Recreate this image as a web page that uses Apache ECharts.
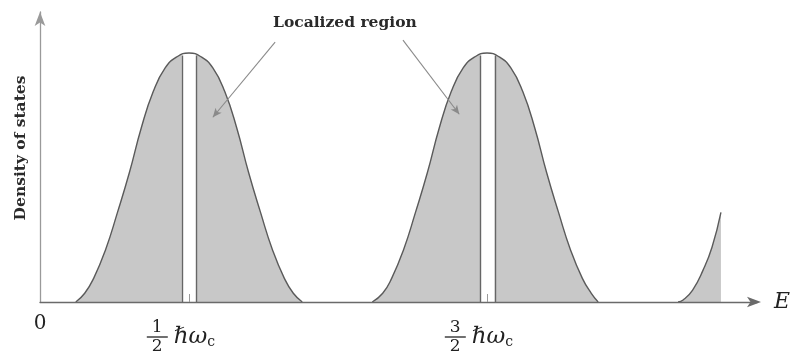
<!DOCTYPE html>
<html>
<head>
<meta charset="utf-8">
<script src="https://cdn.jsdelivr.net/npm/echarts@6/dist/echarts.min.js"></script>
<style>
  html, body { margin: 0; padding: 0; background: #fff; }
  #chart { width: 792px; height: 358px; }
</style>
</head>
<body>
<div id="chart"></div>
<script>
// Broadened Landau levels: energy in units of ħω_c, density of states normalised to the level peak.
const level1 = [[0.12, 0], [0.15, 0.035], [0.18, 0.095], [0.22, 0.21], [0.26, 0.36], [0.30, 0.52],
  [0.34, 0.70], [0.38, 0.845], [0.42, 0.94], [0.46, 0.985], [0.50, 1.0], [0.54, 0.985], [0.58, 0.94],
  [0.62, 0.845], [0.66, 0.70], [0.70, 0.52], [0.74, 0.36], [0.78, 0.21], [0.82, 0.095], [0.85, 0.035], [0.88, 0]];
const level2 = [[1.115, 0], [1.15, 0.035], [1.18, 0.095], [1.22, 0.21], [1.26, 0.36], [1.30, 0.52],
  [1.34, 0.70], [1.38, 0.845], [1.42, 0.94], [1.46, 0.985], [1.50, 1.0], [1.54, 0.985], [1.58, 0.94],
  [1.62, 0.845], [1.66, 0.70], [1.70, 0.52], [1.74, 0.36], [1.78, 0.21], [1.82, 0.095], [1.85, 0.035], [1.873, 0]];
const level3 = [[2.141, 0], [2.158, 0.008], [2.19, 0.048], [2.225, 0.128], [2.255, 0.22], [2.285, 0.36]];

// Extended states at the centre of each level
const strip1 = [[0.476, 0.993], [0.5, 1.0], [0.524, 0.993]];
const strip2 = [[1.478, 0.993], [1.5, 1.0], [1.526, 0.993]];
const stripEdges = [[0.476, 0.99], [0.524, 0.99], [1.478, 0.99], [1.526, 0.99]];

// Tick positions and labels on the energy axis
const tickValues = [0, 0.5, 1.5];
const tickNumerators = { 0.5: '1', 1.5: '3' };
const levelCentres = [0.5, 1.5];

// Pointers from the "Localized region" caption into the tails of the levels
const pointers = [
  [[0.789, 1.044], [0.58, 0.742]],
  [[1.218, 1.052], [1.407, 0.754]]
];

const serif = '"DejaVu Serif", "Liberation Serif", serif';
const fillGray = '#c8c8c8';
const edgeGray = '#5a5a5a';
const smoothing = 0.5;

function fillSeries(data) {
  return {
    type: 'line', data: data, smooth: smoothing, showSymbol: false, silent: true,
    lineStyle: { width: 0 }, areaStyle: { color: fillGray, opacity: 1 }, z: 1
  };
}
function stripSeries(data) {
  return {
    type: 'line', data: data, smooth: smoothing, showSymbol: false, silent: true,
    lineStyle: { width: 0 }, areaStyle: { color: '#ffffff', opacity: 1 }, z: 2
  };
}
function outlineSeries(data) {
  return {
    type: 'line', data: data, smooth: smoothing, showSymbol: false, silent: true,
    lineStyle: { width: 1.4, color: edgeGray }, z: 3
  };
}

const chart = echarts.init(document.getElementById('chart'), null, { renderer: 'canvas' });

chart.setOption({
  animation: false,
  backgroundColor: '#ffffff',
  title: {
    text: 'Localized region',
    left: 273, top: 15, padding: 0,
    textStyle: { fontFamily: serif, fontWeight: 'bold', fontSize: 15.5, color: '#2a2a2a' }
  },
  grid: { left: 40, right: 35, top: 12, bottom: 56, containLabel: false, outerBoundsMode: 'none' },
  xAxis: {
    type: 'value', min: 0, max: 2.406, z: 10,
    name: 'E', nameLocation: 'end', nameGap: 17,
    nameTextStyle: { fontFamily: serif, fontStyle: 'italic', fontSize: 22, color: '#222' },
    splitLine: { show: false },
    axisLine: { lineStyle: { color: '#6a6a6a', width: 1.3 }, symbol: ['none', 'arrow'], symbolSize: [8, 14], symbolOffset: [0, 4] },
    axisTick: { show: true, inside: true, length: 8, customValues: levelCentres, lineStyle: { color: '#9a9a9a', width: 1 } },
    axisLabel: {
      customValues: tickValues, margin: 18, color: '#222',
      formatter: function (v) {
        if (v === 0) return '{zero|0}';
        return '{num|' + tickNumerators[v] + '}\n{bar|}{h|ℏω}{sub|c}{sp|}\n{num|2}';
      },
      rich: {
        zero: { fontFamily: serif, fontSize: 20, lineHeight: 8, color: '#222' },
        num: { align: 'left', fontFamily: serif, fontSize: 17, lineHeight: 15, padding: [0, 0, 0, 5], color: '#222' },
        bar: { align: 'left', width: 21, height: 1.4, lineHeight: 4, backgroundColor: '#333' },
        h: { align: 'left', fontFamily: serif, fontStyle: 'italic', fontSize: 23, lineHeight: 4, padding: [0, 0, 0, 6], color: '#222' },
        sub: { align: 'left', fontFamily: serif, fontSize: 14, lineHeight: 4, padding: [10, 0, 0, 0], color: '#222' },
        sp: { align: 'left', width: 16, lineHeight: 4 }
      }
    }
  },
  yAxis: {
    type: 'value', min: 0, max: 1.1647,
    name: 'Density of states', nameLocation: 'middle', nameRotate: 90, nameGap: 11,
    nameTextStyle: { fontFamily: serif, fontWeight: 'bold', fontSize: 15.5, color: '#2a2a2a', padding: [0, 0, 0, 18] },
    splitLine: { show: false },
    axisLine: { lineStyle: { color: '#9a9a9a', width: 1.3 }, symbol: ['none', 'arrow'], symbolSize: [8, 14] },
    axisTick: { show: false },
    axisLabel: { show: false }
  },
  series: [
    fillSeries(level1), fillSeries(level2), fillSeries(level3),
    stripSeries(strip1), stripSeries(strip2),
    outlineSeries(level1), outlineSeries(level2), outlineSeries(level3),
    {
      // strip borders and caption pointers
      type: 'line', data: [], silent: true, z: 4,
      markLine: {
        silent: true, animation: false, label: { show: false },
        data: stripEdges.map(function (p) {
          return [{ coord: [p[0], 0], symbol: 'none' }, { coord: p, symbol: 'none', lineStyle: { color: '#666', width: 1.4, type: 'solid' } }];
        }).concat(pointers.map(function (seg) {
          return [{ coord: seg[0], symbol: 'none' }, { coord: seg[1], symbol: 'arrow', symbolSize: [6, 9], lineStyle: { color: '#8a8a8a', width: 1.1, type: 'solid' } }];
        })),
        lineStyle: { type: 'solid' }
      }
    }
  ]
});
</script>
</body>
</html>
